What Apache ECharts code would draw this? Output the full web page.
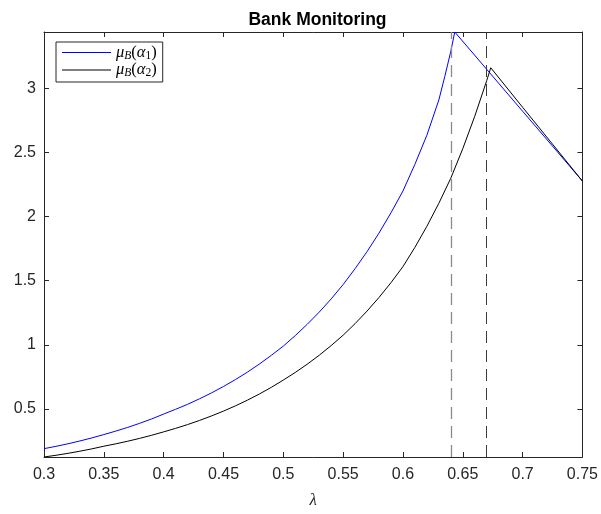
<!DOCTYPE html>
<html><head><meta charset="utf-8">
<script src="https://cdn.jsdelivr.net/npm/echarts@6/dist/echarts.min.js"></script>
<style>html,body{margin:0;padding:0;background:#fff}#c{width:601px;height:514px}</style>
</head><body><div id="c"></div>
<script>
// ---- data ----
const lambdaBlue = [0.30,0.31,0.32,0.33,0.34,0.35,0.36,0.37,0.38,0.39,0.40,0.41,0.42,0.43,0.44,0.45,0.46,0.47,0.48,0.49,0.50,0.51,0.52,0.53,0.54,0.55,0.56,0.57,0.58,0.59,0.60,0.61,0.62,0.63,0.635,0.64,0.6433,0.6734,0.70,0.725,0.75];
const muBlue = [0.190,0.208,0.228,0.250,0.274,0.300,0.327,0.356,0.388,0.422,0.460,0.497,0.536,0.579,0.625,0.675,0.729,0.787,0.850,0.918,0.990,1.072,1.160,1.255,1.358,1.470,1.594,1.727,1.872,2.030,2.200,2.408,2.635,2.910,3.094,3.290,3.440,3.112,2.822,2.550,2.277];
const lambdaBlack = [0.30,0.31,0.32,0.33,0.34,0.35,0.36,0.37,0.38,0.39,0.40,0.41,0.42,0.43,0.44,0.45,0.46,0.47,0.48,0.49,0.50,0.51,0.52,0.53,0.54,0.55,0.56,0.57,0.58,0.59,0.60,0.61,0.62,0.63,0.64,0.65,0.66,0.67,0.6734,0.70,0.725,0.75];
const muBlack = [0.125,0.1385,0.1535,0.1702,0.1886,0.209,0.2277,0.2481,0.2704,0.2946,0.321,0.3483,0.378,0.4103,0.4452,0.483,0.5239,0.5682,0.6163,0.6684,0.725,0.7845,0.8489,0.9186,0.994,1.075,1.1654,1.2634,1.3697,1.4849,1.61,1.7602,1.9245,2.104,2.30,2.5298,2.7825,3.0605,3.161,2.853,2.565,2.277];
const vLines = [0.6433, 0.6734];
const xTicks = [0.3,0.35,0.4,0.45,0.5,0.55,0.6,0.65,0.7,0.75];
const yTicks = [0.5,1,1.5,2,2.5,3];
const seriesNames = ['mu1','mu2'];
const titleText = 'Bank Monitoring';
const xName = 'λ';

const X_MIN = xTicks[0], X_MAX = xTicks[xTicks.length-1];
const Y_MIN = Math.min(...muBlue, ...muBlack);
const Y_MAX = Math.max(...muBlue, ...muBlack);

const AX = '#262626';
const sans = '"Liberation Sans", Arial, Helvetica, sans-serif';
const serif = '"Liberation Serif", "Times New Roman", serif';

function pairs(xs, ys){ return xs.map((x,i)=>[x, ys[i]]); }

const axisBase = {
  type:'value',
  axisLine:{show:true, onZero:false, lineStyle:{color:AX, width:1}},
  splitLine:{show:false}
};

const chart = echarts.init(document.getElementById('c'), null, {renderer:'canvas'});
chart.setOption({
  animation:false,
  backgroundColor:'#fff',
  title:{text:titleText, left:312.5, textAlign:'center', top:6,
    textStyle:{fontFamily:sans, fontWeight:'bold', fontSize:17.5, color:'#000'}},
  grid:{left:44, right:18, top:32, bottom:57, containLabel:false},
  legend:{
    data:seriesNames, orient:'vertical', left:56, top:42,
    icon:'path://M0,0H50V1H0Z',
    backgroundColor:'#fff', borderColor:AX, borderWidth:1, borderRadius:0,
    padding:[2,6,3,6], itemWidth:49, itemHeight:14, itemGap:0,
    formatter:function(n){
      const k = n==='mu1' ? '1' : '2';
      return '{m|μ}{b|B}{p|(}{m|α}{s|' + k + '}{p|)}';
    },
    textStyle:{color:'#000', rich:{
      m:{fontFamily:serif, fontStyle:'italic', fontSize:16.5, lineHeight:18, color:'#000'},
      b:{fontFamily:serif, fontStyle:'italic', fontSize:11.5, lineHeight:10, verticalAlign:'bottom', color:'#000'},
      s:{fontFamily:serif, fontSize:11.5, lineHeight:10, verticalAlign:'bottom', color:'#000'},
      p:{fontFamily:serif, fontSize:16.5, lineHeight:18, color:'#000'}
    }}
  },
  xAxis:[
    Object.assign({}, axisBase, {position:'bottom', min:X_MIN, max:X_MAX,
      axisTick:{show:true, inside:true, length:5, customValues:xTicks, lineStyle:{color:AX}},
      axisLabel:{show:true, customValues:xTicks, margin:10, fontSize:16, fontFamily:sans, color:AX,
        formatter:v=>String(+v.toFixed(2))},
      name:xName, nameLocation:'middle', nameGap:35,
      nameTextStyle:{fontFamily:serif, fontStyle:'italic', fontSize:17, color:AX}}),
    Object.assign({}, axisBase, {position:'top', min:X_MIN, max:X_MAX,
      axisTick:{show:true, inside:true, length:5, customValues:xTicks, lineStyle:{color:AX}},
      axisLabel:{show:false}})
  ],
  yAxis:[
    Object.assign({}, axisBase, {position:'left', min:Y_MIN, max:Y_MAX,
      axisTick:{show:true, inside:true, length:5, customValues:yTicks, lineStyle:{color:AX}},
      axisLabel:{show:true, customValues:yTicks, margin:8, fontSize:16, fontFamily:sans, color:AX,
        formatter:v=>String(+v.toFixed(2))}}),
    Object.assign({}, axisBase, {position:'right', min:Y_MIN, max:Y_MAX,
      axisTick:{show:true, inside:true, length:5, customValues:yTicks, lineStyle:{color:AX}},
      axisLabel:{show:false}})
  ],
  series:[
    {name:seriesNames[0], type:'line', data:pairs(lambdaBlue, muBlue), symbol:'none', showSymbol:false,
      lineStyle:{color:'#0000ff', width:1}, itemStyle:{color:'#0000ff'}, z:3},
    {name:seriesNames[1], type:'line', data:pairs(lambdaBlack, muBlack), symbol:'none', showSymbol:false,
      lineStyle:{color:'#000000', width:1}, itemStyle:{color:'#000000'}, z:3,
      markLine:{silent:true, symbol:['none','none'], label:{show:false}, animation:false,
        data:[
          {xAxis:vLines[0], lineStyle:{color:'#8c8c8c', width:1.3, type:[12,7]}},
          {xAxis:vLines[1], lineStyle:{color:'#3a3a3a', width:1, type:[12,7]}}
        ]}}
  ]
});
</script></body></html>
